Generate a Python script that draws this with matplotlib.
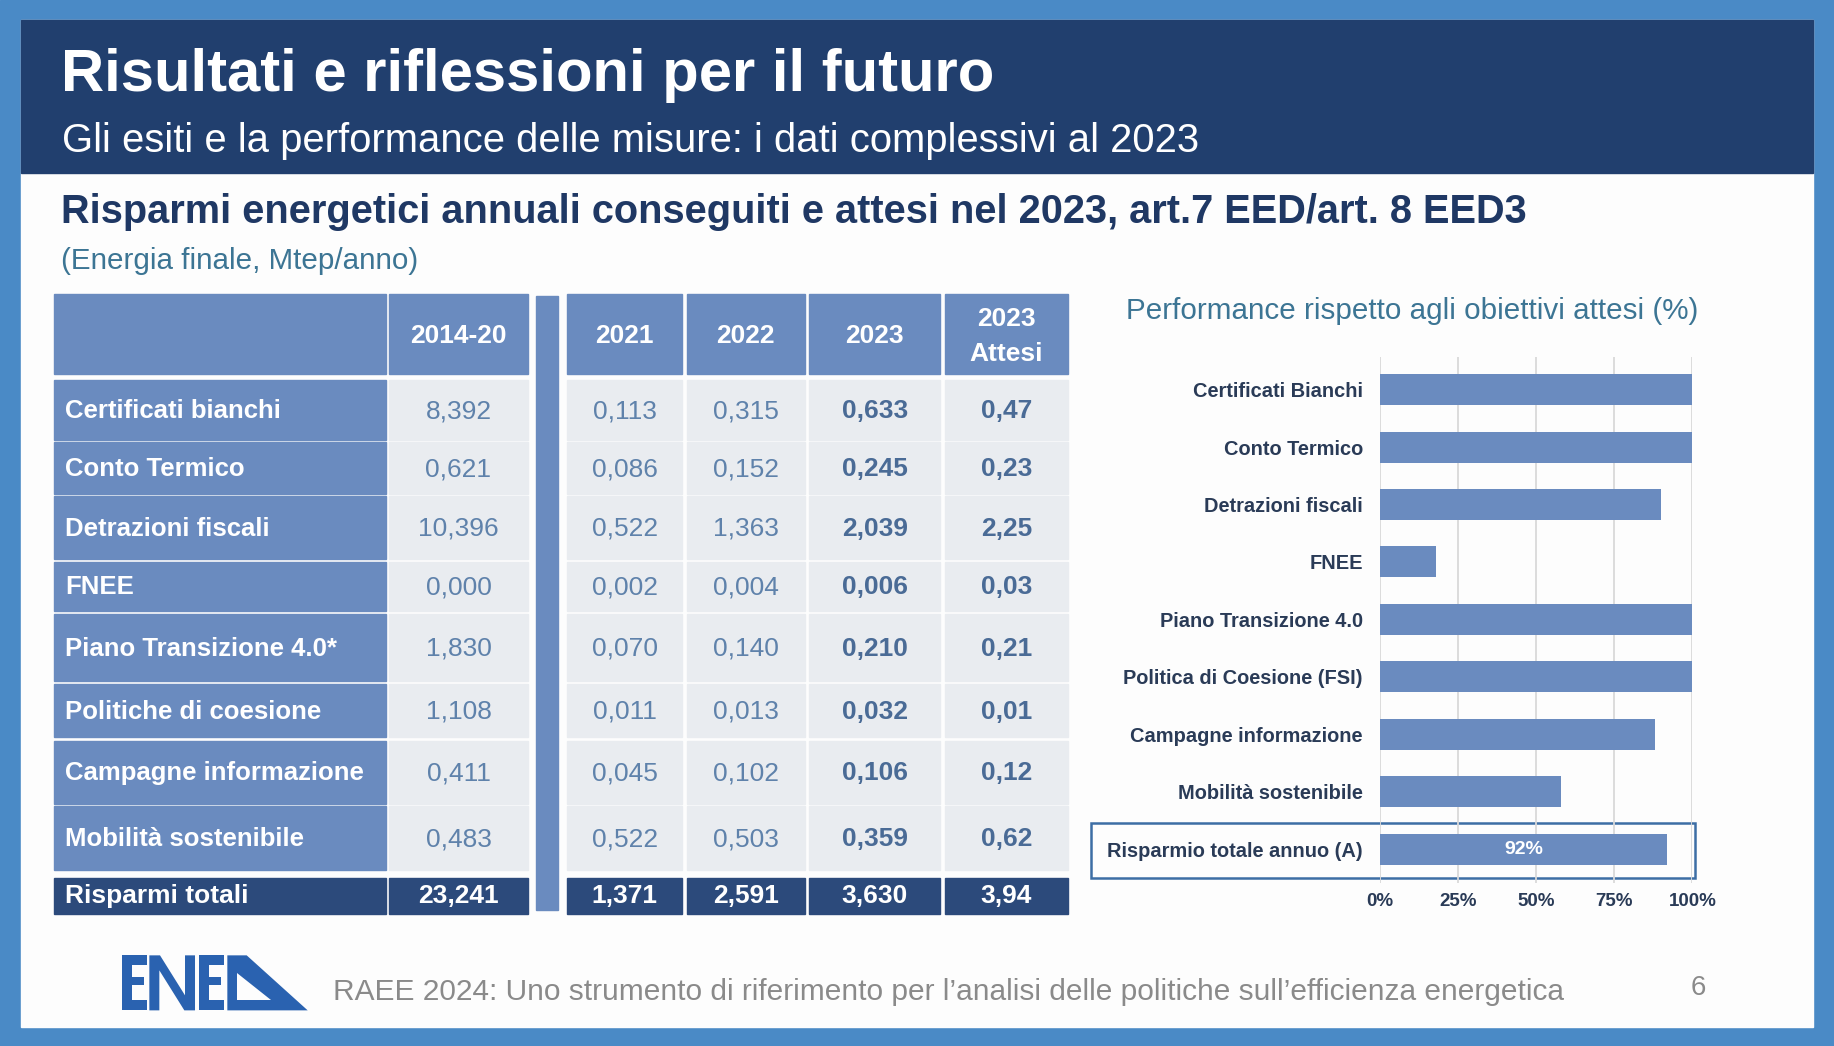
import matplotlib
matplotlib.use('Agg')
import matplotlib.pyplot as plt
from matplotlib.patches import Rectangle, Polygon

plt.rcParams['font.family'] = ['Liberation Sans', 'DejaVu Sans']

# ---------------- data ----------------
row_labels = ['Certificati bianchi', 'Conto Termico', 'Detrazioni fiscali', 'FNEE',
              'Piano Transizione 4.0*', 'Politiche di coesione', 'Campagne informazione',
              'Mobilità sostenibile']
col_headers = ['2014-20', '2021', '2022', '2023', '2023\nAttesi']
v_2014_20 = [8.392, 0.621, 10.396, 0.000, 1.830, 1.108, 0.411, 0.483]
v_2021 = [0.113, 0.086, 0.522, 0.002, 0.070, 0.011, 0.045, 0.522]
v_2022 = [0.315, 0.152, 1.363, 0.004, 0.140, 0.013, 0.102, 0.503]
v_2023 = [0.633, 0.245, 2.039, 0.006, 0.210, 0.032, 0.106, 0.359]
v_attesi = [0.47, 0.23, 2.25, 0.03, 0.21, 0.01, 0.12, 0.62]
total_label = 'Risparmi totali'
totals = [23.241, 1.371, 2.591, 3.630, 3.94]

perf_labels = ['Certificati Bianchi', 'Conto Termico', 'Detrazioni fiscali', 'FNEE',
               'Piano Transizione 4.0', 'Politica di Coesione (FSI)', 'Campagne informazione',
               'Mobilità sostenibile', 'Risparmio totale annuo (A)']
perf_values = [100, 100, 90, 18, 100, 100, 88, 58, 92]
perf_ticks = [0, 25, 50, 75, 100]

# ---------------- styling ----------------
W, H = 1568, 894
FRAME = '#4a8ac6'
NAVY = '#213f6e'
HEAD_NAVY = '#1f3864'
TEAL = '#3c7594'
TBLUE = '#6a8bbf'
TGRAY = '#e9ecf0'
TOTAL = '#2c4a7b'
VAL = '#5f82ab'
VALB = '#4a6b96'
LAB = '#2a3b57'
GREY = '#8a8a8a'
ENEA = '#2a62b0'
WHITE_BG = '#fdfdfd'

fig = plt.figure(figsize=(18.34, 10.46), dpi=100)
bg = fig.add_axes([0, 0, 1, 1])
bg.set_xlim(0, W)
bg.set_ylim(H, 0)
bg.axis('off')

# frame, content, header
bg.add_patch(Rectangle((0, 0), W, H, color=FRAME, zorder=0))
bg.add_patch(Rectangle((18, 17), 1532, 861, color=WHITE_BG, zorder=1))
bg.add_patch(Rectangle((18, 17), 1532, 131, color=NAVY, zorder=2))

bg.text(52, 78, 'Risultati e riflessioni per il futuro', color='white', fontsize=43,
        fontweight='bold', va='baseline', ha='left', zorder=3)
bg.text(53, 130, 'Gli esiti e la performance delle misure: i dati complessivi al 2023',
        color='white', fontsize=28.8, va='baseline', ha='left', zorder=3)
bg.text(52, 191, 'Risparmi energetici annuali conseguiti e attesi nel 2023, art.7 EED/art. 8 EED3',
        color=HEAD_NAVY, fontsize=28.6, fontweight='bold', va='baseline', ha='left', zorder=3)
bg.text(52, 230, '(Energia finale, Mtep/anno)', color=TEAL, fontsize=21.3,
        va='baseline', ha='left', zorder=3)

# ---------------- table ----------------
label_x = (46, 330)
col_x = [(333, 451), (485, 583), (587, 688), (692, 804), (808, 913)]
head_y = (251, 320)
row_y = [(325, 376), (378, 422), (424, 478), (480, 522), (525, 582), (585, 630),
         (633, 687), (689, 744)]
tot_y = (750, 781)

def cell(x, y, color):
    bg.add_patch(Rectangle((x[0], y[0]), x[1] - x[0], y[1] - y[0], color=color, zorder=3))

# header
cell(label_x, head_y, TBLUE)
for (x, hdr) in zip(col_x, col_headers):
    cell(x, head_y, TBLUE)
    bg.text((x[0] + x[1]) / 2, (head_y[0] + head_y[1]) / 2 + 2, hdr, color='white',
            fontsize=19, fontweight='bold', ha='center', va='center', zorder=4,
            linespacing=1.6)

# separator bar
bg.add_patch(Rectangle((458, 253), 19, 525, color=TBLUE, zorder=3))

columns = [v_2014_20, v_2021, v_2022, v_2023, v_attesi]
decimals = [3, 3, 3, 3, 2]
bold_cols = [False, False, False, True, True]
for r, (lab, y) in enumerate(zip(row_labels, row_y)):
    cy = (y[0] + y[1]) / 2 + 1
    cell(label_x, y, TBLUE)
    bg.text(56, cy, lab, color='white', fontsize=18.5, fontweight='bold',
            ha='left', va='center', zorder=4)
    for c, x in enumerate(col_x):
        cell(x, y, TGRAY)
        txt = f'{columns[c][r]:.{decimals[c]}f}'.replace('.', ',')
        bg.text((x[0] + x[1]) / 2, cy, txt,
                color=VALB if bold_cols[c] else VAL,
                fontsize=19, fontweight='bold' if bold_cols[c] else 'normal',
                ha='center', va='center', zorder=4)

# totals row
cy = (tot_y[0] + tot_y[1]) / 2
cell(label_x, tot_y, TOTAL)
bg.text(56, cy, total_label, color='white', fontsize=19, fontweight='bold',
        ha='left', va='center', zorder=4)
for c, x in enumerate(col_x):
    cell(x, tot_y, TOTAL)
    txt = f'{totals[c]:.{decimals[c]}f}'.replace('.', ',')
    bg.text((x[0] + x[1]) / 2, cy, txt, color='white', fontsize=19, fontweight='bold',
            ha='center', va='center', zorder=4)

# ---------------- performance chart ----------------
bg.text(1207, 273, 'Performance rispetto agli obiettivi attesi (%)', color=TEAL,
        fontsize=21.3, ha='center', va='baseline', zorder=4)
bg.add_patch(Rectangle((933, 703), 516, 47, fill=False, edgecolor='#3d6ea5',
                       lw=1.8, zorder=4))

ax_left, ax_right, ax_top, ax_bot = 1180, 1447, 305, 755
ax = fig.add_axes([ax_left / W, 1 - ax_bot / H, (ax_right - ax_left) / W, (ax_bot - ax_top) / H])
ax.patch.set_alpha(0)
ypos = list(range(len(perf_labels)))
ax.barh(ypos, perf_values, height=0.54, color=TBLUE, zorder=3)
ax.set_xlim(0, 100)
step = 49.1
ax.set_ylim((ax_bot - 333) / step, (ax_top - 333) / step)
ax.set_yticks(ypos)
ax.set_yticklabels(perf_labels, fontsize=14.4, fontweight='bold', color=LAB)
ax.set_xticks(perf_ticks)
ax.set_xticklabels([f'{t}%' for t in perf_ticks], fontsize=13.5, fontweight='bold', color=LAB)
ax.tick_params(axis='y', length=0, pad=12.5)
ax.tick_params(axis='x', length=0, pad=7)
for s in ax.spines.values():
    s.set_visible(False)
ax.set_axisbelow(True)
ax.xaxis.grid(True, color='#d9d9d9', lw=1.3)
ax.text(perf_values[-1] / 2, ypos[-1], f'{perf_values[-1]}%', color='white', fontsize=14,
        fontweight='bold', ha='center', va='center', zorder=4)

# ---------------- footer / logo ----------------
def lg(zx, zy):
    return ((115 + zx / 3) / 1.1696, (945 + zy / 3) / 1.1696)

def poly(pts, color):
    bg.add_patch(Polygon([lg(*p) for p in pts], closed=True, color=color, zorder=4, lw=0))

def letter_e(x0):
    poly([(x0, 30), (x0 + 75, 30), (x0 + 75, 58), (x0 + 30, 58), (x0 + 30, 95),
          (x0 + 68, 95), (x0 + 68, 120), (x0 + 30, 120), (x0 + 30, 165), (x0 + 75, 165),
          (x0 + 75, 195), (x0, 195)], ENEA)

letter_e(20)
poly([(103, 195), (103, 30), (135, 30), (210, 150), (210, 30), (240, 30), (240, 195),
      (208, 195), (133, 75), (133, 195)], ENEA)
letter_e(251)
poly([(337, 30), (395, 30), (578, 195), (337, 195)], ENEA)
poly([(367, 82), (367, 165), (468, 165)], WHITE_BG)

bg.text(285, 855, 'RAEE 2024: Uno strumento di riferimento per l\u2019analisi delle politiche sull\u2019efficienza energetica',
        color=GREY, fontsize=21.5, ha='left', va='baseline', zorder=4)
bg.text(1452, 850, '6', color=GREY, fontsize=20, ha='center', va='baseline', zorder=4)

fig.savefig('out.png', dpi=100)
